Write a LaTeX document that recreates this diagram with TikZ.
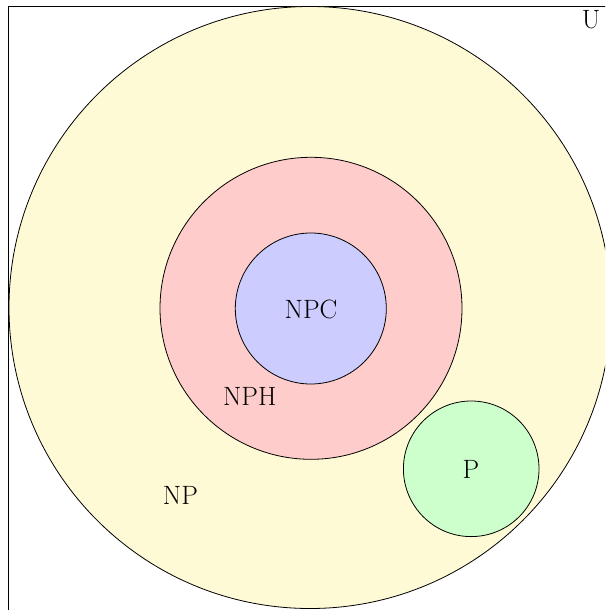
\documentclass[tikz,border=0pt]{standalone}
\usepackage{xcolor}
\definecolor{npyellow}{RGB}{255,250,214}
\definecolor{nphred}{RGB}{255,204,204}
\definecolor{npcblue}{RGB}{204,204,255}
\definecolor{pgreen}{RGB}{204,255,204}
\begin{document}
\begin{tikzpicture}[x=1pt,y=-1pt,
  setcircle/.style={circle,draw=black,line width=0.8pt,inner sep=0pt,outer sep=0pt},
  setlabel/.style={inner sep=0pt,font=\fontsize{26.5pt}{32pt}\selectfont}]
\useasboundingbox (0,0) rectangle (605,610);
\clip (0,0) rectangle (605,610);
\fill[white] (0,0) rectangle (605,610);
\draw[line width=1.1pt] (8.5,700) -- (8.5,6.5) -- (700,6.5);
\node[setcircle,fill=npyellow,minimum size=602pt] (np) at (310,307.5) {};
\node[setcircle,fill=nphred,minimum size=302pt] (nph) at (311,308.3) {};
\node[setcircle,fill=npcblue,minimum size=151pt] (npc) at (310.8,308.5) {};
\node[setcircle,fill=pgreen,minimum size=135.6pt] (p) at (471.2,468.8) {};
\node[setlabel] (lnpc) at (311,309) {NPC};
\node[setlabel] (lnph) at (249.7,396) {NPH};
\node[setlabel] (lnp) at (180.5,495) {NP};
\node[setlabel] (lp) at (471,469) {P};
\node[setlabel] (lu) at (591,19.5) {U};
\end{tikzpicture}
\end{document}
